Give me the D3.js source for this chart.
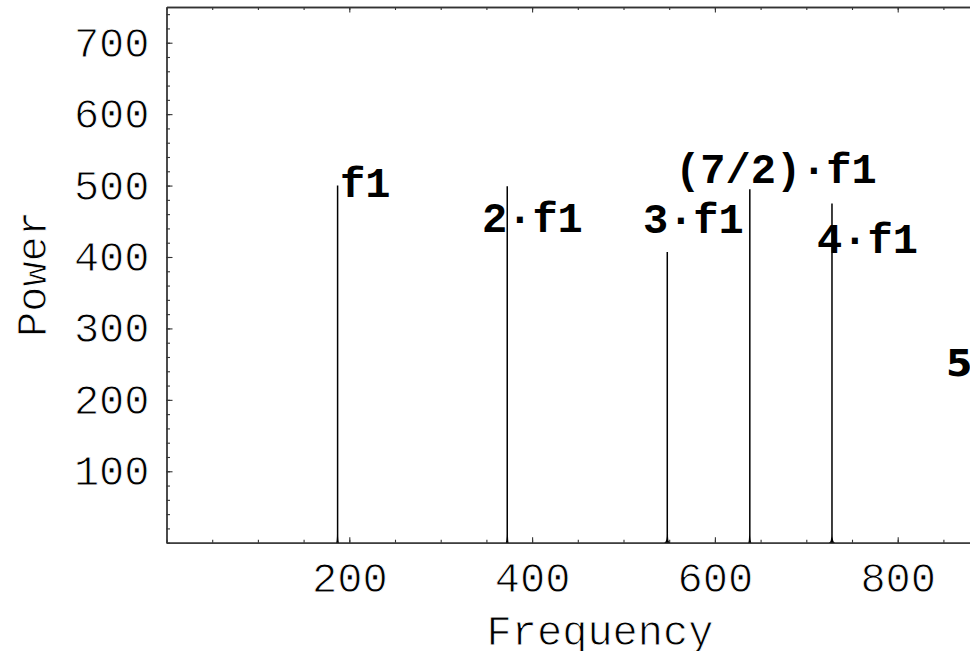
<!DOCTYPE html>
<html>
<head>
<meta charset="utf-8">
<script src="https://cdn.jsdelivr.net/npm/d3@7"></script>
<style>
  html, body { margin: 0; padding: 0; background: #fff; overflow: hidden; }
  svg { display: block; }
</style>
</head>
<body>
<svg id="chart" width="970" height="651"></svg>
<script>
// Spectral peaks: centre frequency and peak power
const peakFreqs  = [187.2, 372.8, 547.9, 638.2, 728.1];
const peakPowers = [500, 499, 407, 495, 475];
// Visible base width of each line (Hz)
const peakWidths = [1.6, 1.6, 4.4, 1.8, 4.4];

// Peak annotations: text, frequency of the text start, power of the baseline
const labelTexts  = ["f1", "2\u00b7f1", "3\u00b7f1", "(7/2)\u00b7f1", "4\u00b7f1", "5\u00b7f1"];
const labelFreqs  = [189.8, 345.2, 521.3, 556.5, 711.8, 852.8];
const labelPowers = [484, 435, 434, 504, 405, 233];

// Axis ticks
const xMajorTicks = [200, 400, 600, 800];
const yMajorTicks = [100, 200, 300, 400, 500, 600, 700];
const xMinorTicks = d3.range(0, 951, 50);
const yMinorTicks = d3.range(0, 741, 20);

const xDomain = [0, 950];
const yDomain = [0, 750];

const svg = d3.select("#chart");
const plotLeft = 166.5, plotBottom = 542.7, plotTop = 7, plotRight = plotLeft + 950 * 0.914;

const x = d3.scaleLinear().domain(xDomain).range([plotLeft, plotRight]);
const y = d3.scaleLinear().domain(yDomain).range([plotBottom, plotTop]);

const mono = "'Liberation Mono', 'Courier New', monospace";
const axisColor = "#333";

// Regular text is drawn with a thin white outline on top, giving a lighter Courier-like stroke
function lightText(sel) {
  sel.attr("fill", "#000")
    .attr("font-family", mono)
    .attr("font-size", 42)
    .attr("stroke", "#fff")
    .attr("stroke-width", 0.9);
}

function styleAxis(g) {
  g.selectAll("path.domain").attr("stroke", axisColor).attr("stroke-width", 1.3);
  g.selectAll(".tick line").attr("stroke", axisColor).attr("stroke-width", 1.1);
  g.selectAll("text").call(lightText);
}

// Minor ticks (inward)
svg.append("g").attr("transform", `translate(0,${plotBottom})`)
  .call(d3.axisBottom(x).tickValues(xMinorTicks).tickSize(-3).tickSizeOuter(0).tickFormat(""))
  .call(styleAxis);
svg.append("g").attr("transform", `translate(${plotLeft},0)`)
  .call(d3.axisLeft(y).tickValues(yMinorTicks).tickSize(-3.5).tickSizeOuter(0).tickFormat(""))
  .call(styleAxis);
svg.append("g").attr("transform", `translate(0,${plotTop})`)
  .call(d3.axisTop(x).tickValues(xMinorTicks).tickSize(-3).tickSizeOuter(0).tickFormat(""))
  .call(styleAxis);
svg.append("g").attr("transform", `translate(${plotRight},0)`)
  .call(d3.axisRight(y).tickValues(yMinorTicks).tickSize(-3.5).tickSizeOuter(0).tickFormat(""))
  .call(styleAxis);

// Major ticks with labels
svg.append("g").attr("transform", `translate(0,${plotBottom})`)
  .call(d3.axisBottom(x).tickValues(xMajorTicks).tickSize(-5.5).tickSizeOuter(0).tickPadding(19))
  .call(styleAxis);
svg.append("g").attr("transform", `translate(${plotLeft},0)`)
  .call(d3.axisLeft(y).tickValues(yMajorTicks).tickSize(-6).tickSizeOuter(0).tickPadding(17))
  .call(styleAxis);
svg.append("g").attr("transform", `translate(0,${plotTop})`)
  .call(d3.axisTop(x).tickValues(xMajorTicks).tickSize(-5.5).tickSizeOuter(0).tickFormat(""))
  .call(styleAxis);
svg.append("g").attr("transform", `translate(${plotRight},0)`)
  .call(d3.axisRight(y).tickValues(yMajorTicks).tickSize(-6).tickSizeOuter(0).tickFormat(""))
  .call(styleAxis);

// Spectral lines: thin spike with a flared foot
const peaks = peakFreqs.map((f, i) => ({ f, p: peakPowers[i], w: peakWidths[i] }));
svg.append("g").selectAll("path.peak")
  .data(peaks)
  .join("path")
  .attr("class", "peak")
  .attr("fill", "#000")
  .attr("d", d => {
    const cx = x(d.f), y0 = y(0), yt = y(d.p);
    const bw = x(d.f + d.w) - x(d.f);
    const h = 0.75;
    return `M${cx - bw},${y0} C${cx - h - 0.6},${y0} ${cx - h},${y0 - 2} ${cx - h},${y0 - 9}` +
           ` L${cx - h},${yt} L${cx + h},${yt} L${cx + h},${y0 - 9}` +
           ` C${cx + h},${y0 - 2} ${cx + h + 0.6},${y0} ${cx + bw},${y0} Z`;
  });

// Peak annotations
const labels = labelTexts.map((t, i) => ({ t, f: labelFreqs[i], p: labelPowers[i] }));
svg.append("g").selectAll("text")
  .data(labels)
  .join("text")
  .attr("x", d => x(d.f))
  .attr("y", d => y(d.p))
  .attr("font-family", d => d.t.startsWith("5") ? "'DejaVu Sans', sans-serif" : mono)
  .attr("font-size", d => d.t.startsWith("5") ? 38 : 42)
  .attr("font-weight", "bold")
  .attr("fill", "#000")
  .text(d => d.t);

// Axis titles
svg.append("text")
  .attr("x", 600).attr("y", 645)
  .attr("text-anchor", "middle")
  .call(lightText)
  .text("Frequency");
svg.append("text")
  .attr("transform", "translate(46,274) rotate(-90)")
  .attr("text-anchor", "middle")
  .call(lightText)
  .text("Power");
</script>
</body>
</html>
